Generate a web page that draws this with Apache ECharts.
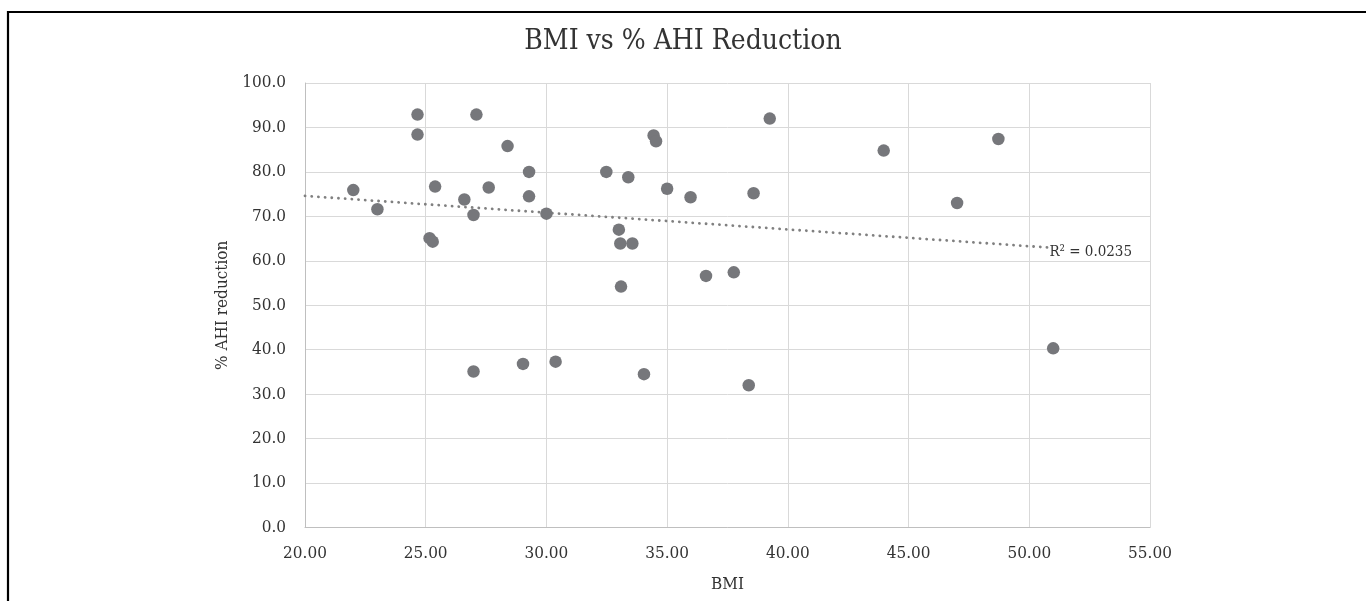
<!DOCTYPE html>
<html>
<head>
<meta charset="utf-8">
<script src="https://cdn.jsdelivr.net/npm/echarts@6/dist/echarts.min.js"></script>
<style>
html,body{margin:0;padding:0;background:#fff;}
#chart{width:1366px;height:601px;}
</style>
</head>
<body>
<div id="chart"></div>
<script>
// BMI values (x) and % AHI reduction (y)
var bmi = [22.0, 23.0, 24.66, 24.66, 25.39, 25.16, 25.29, 27.10, 28.39, 29.28, 29.28, 26.60, 27.61, 26.98, 30.0,
           32.48, 33.39, 34.44, 34.54, 35.0, 35.97, 38.58, 39.25, 43.97, 33.0, 33.06, 33.56, 33.09, 36.61, 37.76,
           48.72, 47.01, 26.98, 29.03, 30.38, 34.04, 38.38, 50.99];
var ahiReduction = [75.9, 71.6, 92.9, 88.4, 76.7, 65.1, 64.3, 92.9, 85.8, 80.0, 74.5, 73.8, 76.5, 70.3, 70.6,
           80.0, 78.8, 88.2, 86.9, 76.2, 74.3, 75.2, 92.0, 84.8, 67.0, 63.9, 63.9, 54.2, 56.6, 57.4,
           87.4, 73.0, 35.1, 36.8, 37.3, 34.5, 32.0, 40.3];
// Linear trendline endpoints
var trendX = [20.0, 50.75];
var trendY = [74.6, 63.0];
var trendLabel = 'R\u00B2 = 0.0235';
var titleText = 'BMI vs % AHI Reduction';
var xAxisName = 'BMI';
var yAxisName = '% AHI reduction';

var font = '"DejaVu Serif Condensed", "DejaVu Serif", serif';
var chart = echarts.init(document.getElementById('chart'), null, {renderer: 'canvas'});
var points = bmi.map(function (b, i) { return [b, ahiReduction[i]]; });
var trend = trendX.map(function (x, i) { return [x, trendY[i]]; });

chart.setOption({
  animation: false,
  backgroundColor: '#fff',
  title: {
    text: titleText, left: 'center', top: 23,
    textStyle: {fontFamily: font, fontSize: 28, fontWeight: 'normal', color: '#333'}
  },
  grid: {left: 305, right: 216, top: 83, bottom: 73.5},
  xAxis: {
    type: 'value', min: 20, max: 55, interval: 5,
    name: xAxisName, nameLocation: 'middle', nameGap: 49,
    nameTextStyle: {fontFamily: font, fontSize: 17, color: '#333'},
    axisLine: {show: true, lineStyle: {color: '#bfbfbf', width: 1}},
    axisTick: {show: false},
    axisLabel: {margin: 18, fontFamily: font, fontSize: 17, color: '#333',
      formatter: function (v) { return v.toFixed(2); }},
    splitLine: {show: true, lineStyle: {color: '#d9d9d9', width: 1}}
  },
  yAxis: {
    type: 'value', min: 0, max: 100, interval: 10,
    name: yAxisName, nameLocation: 'middle', nameGap: 66,
    nameTextStyle: {fontFamily: font, fontSize: 17, color: '#333'},
    axisLine: {show: true, lineStyle: {color: '#bfbfbf', width: 1}},
    axisTick: {show: false},
    axisLabel: {margin: 19, fontFamily: font, fontSize: 17, color: '#333',
      formatter: function (v) { return v.toFixed(1); }},
    splitLine: {show: true, lineStyle: {color: '#d9d9d9', width: 1}}
  },
  series: [
    {
      type: 'line', data: trend, symbol: 'none', silent: true, z: 1,
      lineStyle: {color: '#808080', width: 2.8, type: [0.1, 6.6], cap: 'round'},
      endLabel: {show: true, formatter: trendLabel, fontFamily: font, fontSize: 15, color: '#333', distance: 2, offset: [0, 5]}
    },
    {
      type: 'scatter', data: points, symbol: 'circle', symbolSize: 12.5, z: 3,
      itemStyle: {color: '#76777b', opacity: 1}
    }
  ],
  graphic: [
    {type: 'line', shape: {x1: 7, y1: 12, x2: 1366, y2: 12}, style: {stroke: '#000', lineWidth: 2.2}},
    {type: 'line', shape: {x1: 8, y1: 11, x2: 8, y2: 601}, style: {stroke: '#000', lineWidth: 2.2}}
  ]
});
</script>
</body>
</html>
